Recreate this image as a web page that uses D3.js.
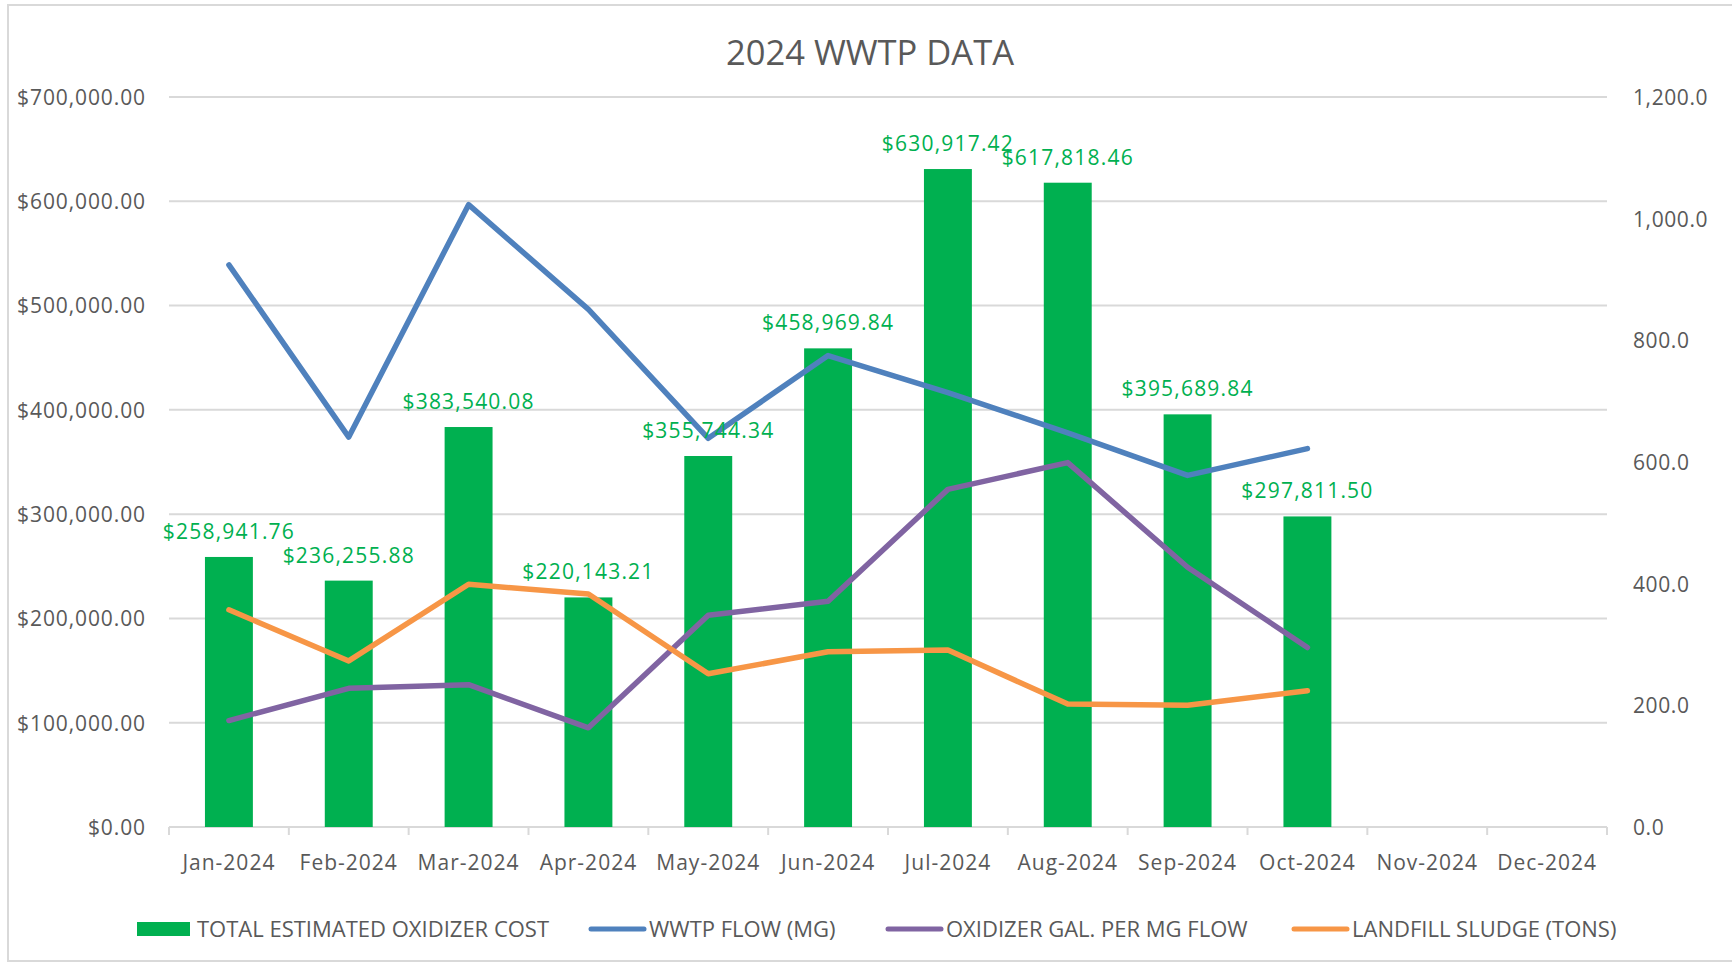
<!DOCTYPE html>
<html>
<head>
<meta charset="utf-8">
<script src="https://cdn.jsdelivr.net/npm/d3@7"></script>
<style>
  body { margin: 0; background: #fff; }
  text { font-family: "Open Sans", "DejaVu Sans", sans-serif; fill: #595959; }
</style>
</head>
<body>
<script>
// chart data
const months = ["Jan-2024","Feb-2024","Mar-2024","Apr-2024","May-2024","Jun-2024",
                "Jul-2024","Aug-2024","Sep-2024","Oct-2024","Nov-2024","Dec-2024"];
const oxidizerCost = [258941.76, 236255.88, 383540.08, 220143.21, 355744.34, 458969.84,
                      630917.42, 617818.46, 395689.84, 297811.50, null, null];
const wwtpFlow = [924, 641, 1023, 851, 639, 775, 714, 648, 578, 622, null, null];
const oxidizerGal = [175, 228, 234, 163, 348, 371, 555, 599, 427, 295, null, null];
const landfillSludge = [357, 273, 399, 383, 252, 288, 291, 202, 200, 224, null, null];

const lineSeries = [
  {name: "WWTP FLOW (MG)", values: wwtpFlow, color: "#4f81bd"},
  {name: "OXIDIZER GAL. PER MG FLOW", values: oxidizerGal, color: "#8064a2"},
  {name: "LANDFILL SLUDGE (TONS)", values: landfillSludge, color: "#f79646"}
];
const barColor = "#00b050";

const width = 1732, height = 964;
const margin = {left: 169, right: 125, top: 97, bottom: 137};

let svg = d3.select("body").append("svg").attr("width", width).attr("height", height)

// chart border
svg.append("rect")
  .attr("x", 8).attr("y", 5)
  .attr("width", width + 10).attr("height", height - 8)
  .attr("fill", "none").attr("stroke", "#d9d9d9").attr("stroke-width", 2)

let x = d3.scaleBand().domain(months)
  .range([margin.left, width - margin.right])
  .paddingInner(0.6).paddingOuter(0.3)
let yLeft = d3.scaleLinear().domain([0, 700000]).range([height - margin.bottom, margin.top])
let yRight = d3.scaleLinear().domain([0, 1200]).range([height - margin.bottom, margin.top])

const cx = d => x(d) + x.bandwidth() / 2;
const x0 = margin.left, x1 = width - margin.right;

// title
svg.append("text")
  .attr("x", 870).attr("y", 65)
  .attr("text-anchor", "middle")
  .style("font-size", "34.5px")
  .text("2024 WWTP DATA")

// gridlines
svg.append("g").selectAll("line")
  .data(yLeft.ticks(7).filter(d => d > 0))
  .enter().append("line")
    .attr("x1", x0).attr("x2", x1)
    .attr("y1", d => yLeft(d)).attr("y2", d => yLeft(d))
    .attr("stroke", "#d9d9d9").attr("stroke-width", 2)

// left axis
let leftAxis = svg.append("g")
  .attr("transform", "translate(" + (x0 - 23) + ",0)")
  .call(d3.axisLeft(yLeft).ticks(7).tickSize(0).tickPadding(0).tickFormat(d => "$" + d3.format(",.2f")(d)))
leftAxis.select(".domain").remove()
leftAxis.selectAll("text").style("font-size", "21px").style("letter-spacing", "0.9px")
  .attr("fill", "#595959").attr("dy", "0.35em")

// right axis
let rightAxis = svg.append("g")
  .attr("transform", "translate(" + (x1 + 23) + ",0)")
  .call(d3.axisRight(yRight).ticks(6).tickSize(0).tickFormat(d3.format(",.1f")))
rightAxis.select(".domain").remove()
rightAxis.selectAll("text").style("font-size", "21px").style("letter-spacing", "0.6px")
  .attr("fill", "#595959").attr("dy", "0.35em")

// bottom axis line + ticks at category boundaries
let baseY = yLeft(0);
let xAxis = svg.append("g")
xAxis.append("line")
  .attr("x1", x0).attr("x2", x1).attr("y1", baseY).attr("y2", baseY)
  .attr("stroke", "#d9d9d9").attr("stroke-width", 2)
xAxis.selectAll("line.tick")
  .data(d3.range(months.length + 1))
  .enter().append("line")
    .attr("class", "tick")
    .attr("x1", i => x0 + i * x.step()).attr("x2", i => x0 + i * x.step())
    .attr("y1", baseY).attr("y2", baseY + 8)
    .attr("stroke", "#d9d9d9").attr("stroke-width", 2)
xAxis.selectAll("text")
  .data(months)
  .enter().append("text")
    .attr("x", d => cx(d)).attr("y", baseY + 43)
    .attr("text-anchor", "middle")
    .style("font-size", "21px")
    .style("letter-spacing", "1px")
    .text(d => d)

// bars
let barData = months.map((m, i) => ({month: m, value: oxidizerCost[i]})).filter(d => d.value != null)
svg.append("g").selectAll("rect")
  .data(barData)
  .enter().append("rect")
    .attr("x", d => x(d.month))
    .attr("y", d => yLeft(d.value))
    .attr("width", x.bandwidth())
    .attr("height", d => baseY - yLeft(d.value))
    .attr("fill", barColor)

// lines
let line = d3.line()
  .defined(d => d.value != null)
  .x(d => cx(d.month))
  .y(d => yRight(d.value))

svg.append("g").selectAll("path")
  .data(lineSeries)
  .enter().append("path")
    .attr("d", s => line(months.map((m, i) => ({month: m, value: s.values[i]}))))
    .attr("fill", "none")
    .attr("stroke", s => s.color)
    .attr("stroke-width", 5.5)
    .attr("stroke-linejoin", "round")
    .attr("stroke-linecap", "round")

// bar data labels
svg.append("g").selectAll("text")
  .data(barData)
  .enter().append("text")
    .attr("x", d => cx(d.month))
    .attr("y", d => yLeft(d.value) - 18)
    .attr("text-anchor", "middle")
    .style("font-size", "21px")
    .style("letter-spacing", "1.2px")
    .style("fill", barColor)
    .text(d => "$" + d3.format(",.2f")(d.value))

// legend
const legendY = 929;
const legendItems = [
  {name: "TOTAL ESTIMATED OXIDIZER COST", color: barColor, type: "bar", x: 137},
  {name: lineSeries[0].name, color: lineSeries[0].color, type: "line", x: 589},
  {name: lineSeries[1].name, color: lineSeries[1].color, type: "line", x: 886},
  {name: lineSeries[2].name, color: lineSeries[2].color, type: "line", x: 1292}
];
let legend = svg.append("g").selectAll("g")
  .data(legendItems)
  .enter().append("g")
    .attr("transform", d => "translate(" + d.x + "," + legendY + ")")
legend.filter(d => d.type == "bar").append("rect")
  .attr("x", 0).attr("y", -7).attr("width", 53).attr("height", 14)
  .attr("fill", d => d.color)
legend.filter(d => d.type == "line").append("line")
  .attr("x1", 2).attr("x2", 55).attr("y1", 0).attr("y2", 0)
  .attr("stroke", d => d.color).attr("stroke-width", 5).attr("stroke-linecap", "round")
legend.append("text")
  .attr("x", 60).attr("y", 0).attr("dy", "0.35em")
  .style("font-size", "22px")
  .text(d => d.name)
</script>
</body>
</html>
